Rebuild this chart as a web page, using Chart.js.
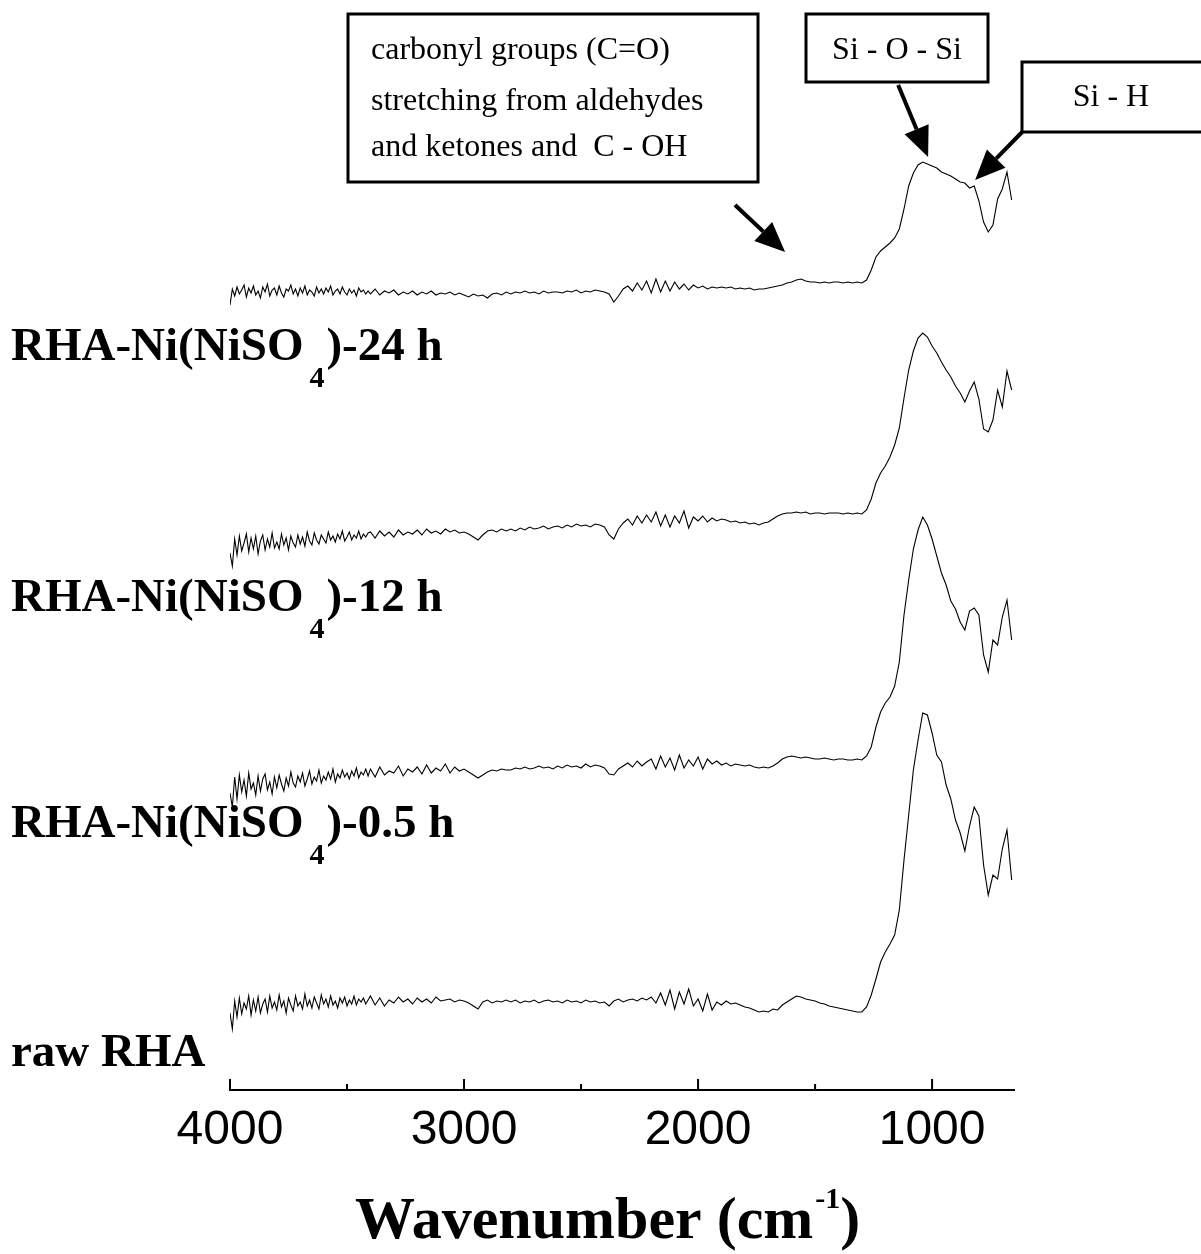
<!DOCTYPE html>
<html>
<head>
<meta charset="utf-8">
<script src="https://cdn.jsdelivr.net/npm/chart.js@4.4.1/dist/chart.umd.min.js"></script>
<style>
  html, body { margin: 0; padding: 0; background: #fff; }
  #wrap { width: 1201px; height: 1254px; }
</style>
</head>
<body>
<div id="wrap"><canvas id="chartFTIR" width="1201" height="1254"></canvas></div>
<script>
// wavenumber grid (cm-1), shared by all four spectra (finer in the noisy OH region)
const wavenumbers = [
  4000,3990,3980,3970,3960,3950,3940,3930,3920,3910,
  3900,3890,3880,3870,3860,3850,3840,3830,3820,3810,
  3800,3790,3780,3770,3760,3750,3740,3730,3720,3710,
  3700,3690,3680,3670,3660,3650,3640,3630,3620,3610,
  3600,3590,3580,3570,3560,3550,3540,3530,3520,3510,
  3500,3490,3480,3470,3460,3450,3440,3430,3420,3410,
  3400,3380,3360,3340,3320,3300,3280,3260,3240,3220,
  3200,3180,3160,3140,3120,3100,3080,3060,3040,3020,
  3000,2980,2960,2940,2920,2900,2880,2860,2840,2820,
  2800,2780,2760,2740,2720,2700,2680,2660,2640,2620,
  2600,2580,2560,2540,2520,2500,2480,2460,2440,2420,
  2400,2380,2360,2340,2320,2300,2280,2260,2240,2220,
  2200,2180,2160,2140,2120,2100,2080,2060,2040,2020,
  2000,1980,1960,1940,1920,1900,1880,1860,1840,1820,
  1800,1780,1760,1740,1720,1700,1680,1660,1640,1620,
  1600,1580,1560,1540,1520,1500,1480,1460,1440,1420,
  1400,1380,1360,1340,1320,1300,1280,1260,1240,1220,
  1200,1180,1160,1140,1120,1100,1080,1060,1040,1020,
  1000,980,960,940,920,900,880,860,840,820,
  800,780,760,740,720,700,680,660
];

// stacked intensity (arbitrary units, offset per spectrum)
const rawRHA = [
  7.2,5.6,8.4,6.8,8.7,7.1,8.2,7.6,8.9,7.0,
  8.5,7.4,8.8,7.2,8.1,8.6,7.3,8.9,7.7,8.3,
  7.5,9.0,7.8,8.4,7.2,8.7,8.0,7.4,8.9,7.9,
  8.3,7.6,9.1,7.9,8.5,7.7,8.8,8.2,7.6,9.0,
  8.1,8.6,7.8,8.9,8.0,8.4,7.7,8.7,8.2,8.8,
  7.9,8.5,8.1,8.9,8.0,8.6,8.3,8.7,8.1,8.5,
  8.9,8.0,8.7,7.9,8.5,8.2,8.8,8.3,8.6,8.1,
  8.7,8.3,8.6,8.2,8.8,8.4,8.5,8.6,8.3,8.5,
  8.4,8.2,7.9,7.6,8.3,8.5,8.2,8.4,8.3,8.5,
  8.3,8.5,8.2,8.4,8.3,8.5,8.2,8.4,8.5,8.3,
  8.4,8.2,8.5,8.3,8.4,8.2,8.5,8.3,8.4,8.2,
  8.3,7.9,8.4,8.6,8.3,8.5,8.6,8.4,8.7,8.5,
  8.8,8.2,9.2,8.0,9.5,7.6,9.3,8.1,9.6,7.9,
  8.6,7.4,9.1,7.5,8.3,8.0,8.4,8.1,8.2,8.0,
  7.8,7.7,7.5,7.3,7.4,7.3,7.6,7.5,8.0,8.3,
  8.6,8.9,8.8,8.6,8.5,8.4,8.2,8.1,7.9,7.8,
  7.7,7.6,7.5,7.4,7.3,7.3,7.8,9.0,10.6,12.3,
  13.3,14.1,15.0,17.5,22.5,27.0,31.5,34.5,37.2,37.0,
  35.2,33.0,32.3,30.0,28.6,26.5,25.2,23.4,25.9,27.8,
  26.9,22.0,19.0,21.0,20.6,23.6,25.5,20.5
];
const ni05h = [
  29.2,27.8,30.8,28.6,31.0,29.3,30.5,28.9,31.2,29.6,
  30.2,29.0,30.9,29.4,30.6,31.1,29.5,30.3,29.1,30.8,
  29.7,31.0,30.1,29.4,30.7,29.9,31.3,30.2,29.8,30.9,
  30.3,31.2,29.9,30.6,31.4,30.1,30.8,30.4,31.5,30.2,
  30.9,30.5,31.3,30.6,31.6,30.3,31.1,30.7,31.5,30.8,
  31.2,30.6,31.4,30.9,31.7,30.7,31.3,31.0,31.6,30.9,
  31.6,30.8,31.8,31.0,31.4,31.2,31.9,30.9,31.6,31.3,
  31.8,31.1,32.0,31.2,31.7,31.4,32.1,31.2,31.8,31.4,
  31.6,31.3,31.0,30.7,31.0,31.3,31.5,31.4,31.6,31.5,
  31.5,31.7,31.6,31.8,31.6,31.7,31.9,31.7,31.8,31.6,
  31.9,31.7,32.0,31.8,31.9,31.7,32.1,31.8,32.0,31.9,
  31.7,31.1,31.0,31.6,31.9,32.2,31.8,32.4,31.9,32.3,
  32.6,31.6,32.9,31.8,32.7,31.5,33.0,31.7,32.5,31.9,
  32.8,31.6,32.6,32.1,32.4,32.0,32.2,31.9,32.1,32.0,
  31.9,32.0,31.8,31.7,31.8,31.7,31.9,32.2,32.6,32.8,
  32.9,32.8,32.7,32.8,32.7,32.6,32.6,32.7,32.6,32.5,
  32.6,32.6,32.5,32.5,32.6,32.5,32.9,33.8,35.8,37.3,
  38.2,38.8,39.9,42.3,47.0,50.5,53.6,55.5,56.8,56.0,
  54.6,52.9,51.2,50.0,48.4,47.6,46.3,45.5,47.4,47.7,
  47.0,43.0,41.3,44.5,44.0,46.8,48.5,44.5
];
const ni12h = [
  53.2,51.9,54.6,53.0,54.9,53.4,54.2,55.1,53.3,54.7,
  53.6,54.9,53.1,54.4,55.0,53.5,54.6,53.8,55.2,53.7,
  54.3,53.6,55.1,54.0,54.7,53.5,54.9,54.2,53.8,55.0,
  54.1,54.8,53.9,55.3,54.4,54.0,55.2,54.5,54.1,55.0,
  54.6,54.2,55.3,54.5,54.9,54.3,55.1,54.6,55.4,54.4,
  54.8,55.3,54.5,55.0,54.7,55.4,54.6,55.1,54.8,55.2,
  55.3,54.7,55.4,54.9,55.3,54.8,55.5,55.0,55.3,55.1,
  55.5,55.0,55.6,55.2,55.4,55.1,55.6,55.3,55.5,55.2,
  55.3,55.1,54.8,54.5,55.0,55.4,55.5,55.3,55.6,55.4,
  55.6,55.4,55.7,55.5,55.8,55.6,55.7,55.9,55.6,55.8,
  55.9,55.7,56.0,55.8,56.1,55.9,56.0,55.8,56.1,56.0,
  55.8,55.0,54.6,55.6,56.2,56.6,56.0,56.9,56.2,57.0,
  56.3,57.3,55.9,57.0,55.8,56.9,56.2,57.4,55.7,56.8,
  56.4,56.9,56.3,56.7,56.4,56.6,56.5,56.3,56.4,56.2,
  56.3,56.1,56.2,56.0,56.2,56.3,56.6,56.9,57.1,57.2,
  57.2,57.3,57.2,57.3,57.1,57.2,57.2,57.1,57.2,57.2,
  57.2,57.1,57.2,57.1,57.2,57.1,57.5,58.6,60.2,61.2,
  61.9,62.8,64.0,65.7,68.7,71.5,73.4,74.7,75.2,74.8,
  73.9,73.2,72.3,71.5,70.8,69.9,69.2,68.3,69.4,70.3,
  68.6,65.6,65.3,66.5,69.5,67.8,71.4,69.5
];
const ni24h = [
  78.0,79.6,78.9,79.8,79.1,79.5,80.0,78.8,79.7,79.2,
  79.9,79.0,79.4,78.7,79.8,79.3,80.1,78.9,79.5,79.7,
  79.0,79.9,79.2,78.8,79.6,79.4,80.0,79.1,79.6,78.9,
  79.7,79.2,79.9,79.0,79.5,79.3,78.9,79.8,79.2,79.6,
  79.1,79.7,79.3,79.9,79.0,79.4,79.6,79.1,79.8,79.3,
  79.0,79.6,79.2,79.5,78.9,79.7,79.3,79.5,79.1,79.4,
  79.1,79.6,79.0,79.4,79.2,79.5,79.0,79.3,79.1,79.4,
  79.0,79.3,79.1,79.4,79.0,79.2,79.1,79.3,79.0,79.2,
  79.0,78.8,79.1,78.9,79.0,78.7,79.1,79.2,79.0,79.3,
  79.1,79.3,79.2,79.4,79.2,79.3,79.1,79.4,79.2,79.3,
  79.3,79.2,79.4,79.3,79.5,79.2,79.4,79.3,79.5,79.4,
  79.3,79.1,78.3,78.9,79.6,79.9,79.4,80.2,79.5,80.4,
  79.2,80.6,79.3,80.4,79.4,80.3,79.6,80.1,79.5,80.0,
  79.7,79.9,79.6,79.8,79.7,79.8,79.7,79.8,79.6,79.7,
  79.6,79.7,79.5,79.6,79.6,79.7,79.8,79.9,80.0,80.2,
  80.3,80.5,80.6,80.4,80.3,80.3,80.2,80.3,80.2,80.3,
  80.3,80.2,80.3,80.2,80.3,80.2,80.5,81.5,82.8,83.4,
  83.8,84.2,84.7,85.6,87.6,89.9,91.2,92.0,92.3,92.1,
  91.9,91.7,91.3,91.1,90.9,90.6,90.3,90.2,89.7,89.9,
  88.4,86.3,85.3,86.0,88.6,89.6,91.3,88.5
];

const tickValues = [4000, 3500, 3000, 2500, 2000, 1500, 1000];

// sample names: [main part, subscript, tail]
const sampleNames = [
  ['RHA-Ni(NiSO', '4', ')-24 h'],
  ['RHA-Ni(NiSO', '4', ')-12 h'],
  ['RHA-Ni(NiSO', '4', ')-0.5 h'],
  ['raw RHA', '', '']
];
const nameBaselines = [360, 611, 837, 1066];

const SERIF = "'Liberation Serif', 'Times New Roman', serif";
const SANS = "'Liberation Sans', Arial, sans-serif";

const toPoints = vals => wavenumbers.map((w, i) => ({ x: w, y: vals[i] }));
const serie = vals => ({
  data: toPoints(vals),
  borderColor: '#000',
  borderWidth: 1.1,
  pointRadius: 0,
  tension: 0,
  fill: false
});

// arrow annotations in data coords: [wnFrom, yFrom, wnTo, yTo]
const arrows = [
  [1842, 88.0, 1628, 83.3],
  [1145, 100.0, 1017, 92.8],
  [615, 95.3, 816, 90.5]
];

const drawArrow = (ctx, x1, y1, x2, y2) => {
  const ang = Math.atan2(y2 - y1, x2 - x1);
  const len = 30, half = 13;
  const bx = x2 - len * Math.cos(ang), by = y2 - len * Math.sin(ang);
  ctx.beginPath();
  ctx.moveTo(x1, y1);
  ctx.lineTo(bx, by);
  ctx.lineWidth = 4;
  ctx.stroke();
  ctx.beginPath();
  ctx.moveTo(x2, y2);
  ctx.lineTo(bx + half * Math.sin(ang), by - half * Math.cos(ang));
  ctx.lineTo(bx - half * Math.sin(ang), by + half * Math.cos(ang));
  ctx.closePath();
  ctx.fill();
};

const decoPlugin = {
  id: 'deco',
  afterDraw(chart) {
    const ctx = chart.ctx;
    const xs = chart.scales.x, ys = chart.scales.y;
    const bottom = chart.chartArea.bottom;
    ctx.save();
    ctx.strokeStyle = '#000';
    ctx.fillStyle = '#000';

    // tick marks pointing up
    ctx.lineWidth = 2;
    xs.ticks.forEach(t => {
      const x = xs.getPixelForValue(t.value);
      const l = t.value % 1000 === 0 ? 11 : 6;
      ctx.beginPath();
      ctx.moveTo(x, bottom);
      ctx.lineTo(x, bottom - l);
      ctx.stroke();
    });

    // sample names
    ctx.textBaseline = 'alphabetic';
    ctx.textAlign = 'left';
    sampleNames.forEach((n, i) => {
      const y = nameBaselines[i];
      let x = 11;
      ctx.font = `bold 47px ${SERIF}`;
      ctx.fillText(n[0], x, y);
      x += ctx.measureText(n[0]).width;
      if (n[1]) {
        x += 6;
        ctx.font = `bold 30px ${SERIF}`;
        ctx.fillText(n[1], x, y + 27);
        x += ctx.measureText(n[1]).width + 2;
      }
      ctx.font = `bold 47px ${SERIF}`;
      ctx.fillText(n[2], x, y);
    });

    // axis title with superscript
    let tx = 355;
    ctx.font = `bold 60px ${SERIF}`;
    ctx.fillText('Wavenumber (cm', tx, 1238);
    tx += ctx.measureText('Wavenumber (cm').width + 2;
    ctx.font = `bold 30px ${SERIF}`;
    ctx.fillText('-1', tx, 1208);
    tx += ctx.measureText('-1').width;
    ctx.font = `bold 60px ${SERIF}`;
    ctx.fillText(')', tx, 1238);

    // annotation boxes
    ctx.lineWidth = 3;
    ctx.strokeRect(348, 14, 410, 168);
    ctx.strokeRect(806, 14, 182, 68);
    ctx.strokeRect(1022, 62, 185, 70);
    ctx.font = `32px ${SERIF}`;
    ctx.fillText('carbonyl groups (C=O)', 371, 59);
    ctx.fillText('stretching from aldehydes', 371, 110);
    ctx.fillText('and ketones and  C - OH', 371, 156);
    ctx.textAlign = 'center';
    ctx.fillText('Si - O - Si', 897, 59);
    ctx.fillText('Si - H', 1111, 106);

    // arrows
    arrows.forEach(a => {
      drawArrow(ctx, xs.getPixelForValue(a[0]), ys.getPixelForValue(a[1]),
        xs.getPixelForValue(a[2]), ys.getPixelForValue(a[3]));
    });
    ctx.restore();
  }
};

const ctx = document.getElementById('chartFTIR').getContext('2d');
const grafico = new Chart(ctx, {
  type: 'line',
  data: {
    datasets: [serie(ni24h), serie(ni12h), serie(ni05h), serie(rawRHA)]
  },
  options: {
    responsive: false,
    animation: false,
    devicePixelRatio: 1,
    layout: { padding: { top: 85, left: 230, right: 187, bottom: 0 } },
    plugins: { legend: { display: false }, tooltip: { enabled: false } },
    scales: {
      x: {
        type: 'linear',
        reverse: true,
        min: 650,
        max: 4000,
        border: { display: true, color: '#000', width: 2 },
        grid: { display: false, drawTicks: false },
        afterBuildTicks: s => { s.ticks = tickValues.map(v => ({ value: v })); },
        afterFit: s => { s.height = 164; },
        ticks: {
          color: '#000',
          font: { family: SANS, size: 48 },
          padding: 12,
          maxRotation: 0,
          autoSkip: false,
          callback: v => (v % 1000 === 0 ? String(v) : '')
        }
      },
      y: { display: false, min: -0.5, max: 100 }
    }
  },
  plugins: [decoPlugin]
});
</script>
</body>
</html>
